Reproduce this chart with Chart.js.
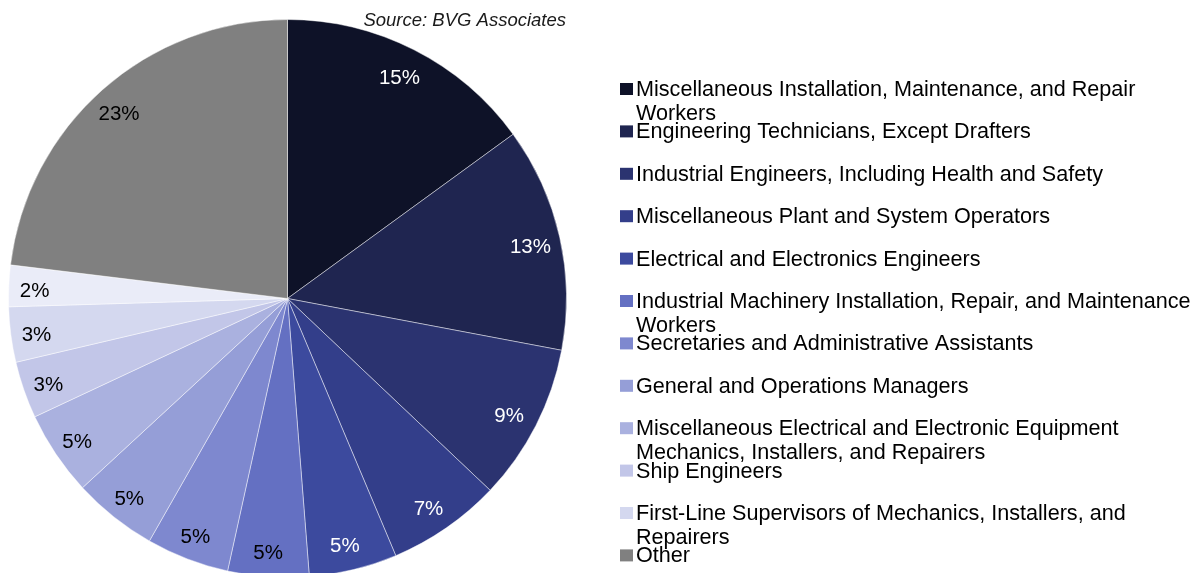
<!DOCTYPE html>
<html>
<head>
<meta charset="utf-8">
<script src="https://cdn.jsdelivr.net/npm/chart.js@4.4.1/dist/chart.umd.min.js"></script>
<style>
html,body{margin:0;padding:0;background:#fff;overflow:hidden;}
#wrap{width:1193px;height:578px;position:relative;}
</style>
</head>
<body>
<div id="wrap"><canvas id="c" width="1193" height="578"></canvas></div>
<script>
// Slice names in drawing order (clockwise from 12 o'clock).
// The 2% slice has no entry in the source legend, so its name is null.
const categories = [
  ["Miscellaneous Installation, Maintenance, and Repair", "Workers"],
  "Engineering Technicians, Except Drafters",
  "Industrial Engineers, Including Health and Safety",
  "Miscellaneous Plant and System Operators",
  "Electrical and Electronics Engineers",
  ["Industrial Machinery Installation, Repair, and Maintenance", "Workers"],
  "Secretaries and Administrative Assistants",
  "General and Operations Managers",
  ["Miscellaneous Electrical and Electronic Equipment", "Mechanics, Installers, and Repairers"],
  "Ship Engineers",
  ["First-Line Supervisors of Mechanics, Installers, and", "Repairers"],
  null,
  "Other"
];
const shares = [15.0, 13.0, 9.1, 6.6, 5.1, 4.7, 4.8, 4.9, 4.9, 3.3, 3.2, 2.4, 23.1];
const sliceColors = ["#0e1228","#1f2550","#2b3370","#333e8a","#3c4a9e","#6470c2","#7e88cf","#959ed7","#aab1df","#c2c6e8","#d4d8ef","#eaecf8","#808080"];
const labelColors = ["#fff","#fff","#fff","#fff","#fff","#000","#000","#000","#000","#000","#000","#000","#000"];
const sourceText = "Source: BVG Associates";

const FONT = '"Liberation Sans", Arial, sans-serif';

const pctLabels = {
  id: 'pctLabels',
  afterDatasetsDraw(chart) {
    const ctx = chart.ctx;
    const meta = chart.getDatasetMeta(0);
    const total = shares.reduce((a,b)=>a+b,0);
    ctx.save();
    ctx.font = '20.5px ' + FONT;
    ctx.textAlign = 'center';
    ctx.textBaseline = 'middle';
    meta.data.forEach((arc, i) => {
      const p = arc.getProps(['x','y','startAngle','endAngle','outerRadius'], true);
      const mid = (p.startAngle + p.endAngle) / 2;
      const r = p.outerRadius * 0.9;
      const x = p.x + r * Math.cos(mid) - 2;
      const y = p.y + r * Math.sin(mid) + 4;
      ctx.fillStyle = labelColors[i];
      ctx.fillText(Math.round(shares[i] / total * 100) + '%', x, y);
    });
    ctx.restore();
  }
};

const customLegend = {
  id: 'customLegend',
  afterDraw(chart) {
    const ctx = chart.ctx;
    const ds = chart.data.datasets[0];
    const labels = chart.data.labels;
    ctx.save();
    ctx.font = '21.6px ' + FONT;
    ctx.textAlign = 'left';
    ctx.textBaseline = 'alphabetic';
    let row = 0;
    labels.forEach((lab, i) => {
      if (lab === null) return;
      const base = 96 + row * 42.4;
      ctx.fillStyle = ds.backgroundColor[i];
      ctx.fillRect(620, base - 13, 13, 12);
      ctx.fillStyle = '#000';
      const lines = Array.isArray(lab) ? lab : [lab];
      lines.forEach((t, k) => ctx.fillText(t, 636, base + k * 24));
      row++;
    });
    ctx.font = 'italic 18.5px ' + FONT;
    ctx.textAlign = 'right';
    ctx.fillStyle = '#1a1a1a';
    ctx.fillText(sourceText, 566, 26);
    ctx.restore();
  }
};

new Chart(document.getElementById('c'), {
  type: 'pie',
  data: {
    labels: categories,
    datasets: [{
      data: shares,
      backgroundColor: sliceColors,
      borderColor: 'rgba(255,255,255,0.45)',
      borderWidth: 1
    }]
  },
  options: {
    responsive: false,
    animation: false,
    layout: { padding: { left: 8, right: 626, top: 19, bottom: 0 } },
    plugins: {
      legend: { display: false },
      tooltip: { enabled: false },
      title: { display: false }
    }
  },
  plugins: [pctLabels, customLegend]
});
</script>
</body>
</html>
